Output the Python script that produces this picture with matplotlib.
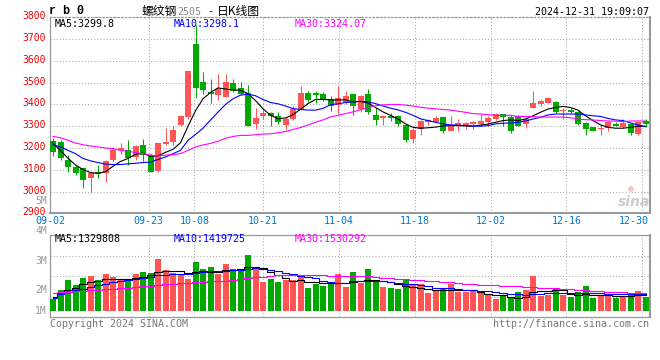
import numpy as np
import matplotlib
matplotlib.use("Agg")
import matplotlib.pyplot as plt
from matplotlib.transforms import blended_transform_factory, ScaledTranslation

plt.rcParams['font.family'] = ['DejaVu Sans Mono', 'Noto Sans CJK SC']

RED, GREEN = "#FF5555", "#00A800"
GRID, SPINE = "#AAAAAA", "#999999"
DOT = (0, (1, 2))

# ---- daily candles rb2505, 2024-09-02 .. 2024-12-31 (80 sessions) ----
opens = [3232, 3229, 3147, 3115, 3106, 3064, 3092, 3086, 3144, 3189,
         3191, 3158, 3215, 3170, 3094, 3220, 3227, 3306, 3341, 3676,
         3503, 3455, 3442, 3436, 3500, 3474, 3452, 3311, 3347, 3361,
         3348, 3306, 3333, 3379, 3452, 3452, 3447, 3427, 3398, 3409,
         3447, 3379, 3447, 3352, 3336, 3348, 3345, 3306, 3242, 3285,
         3318, 3321, 3344, 3280, 3300, 3306, 3311, 3311, 3318, 3333,
         3356, 3341, 3345, 3311, 3386, 3402, 3409, 3412, 3370, 3376,
         3367, 3315, 3295, 3285, 3291, 3311, 3295, 3311, 3265, 3326]
highs = [3247, 3235, 3167, 3124, 3109, 3091, 3124, 3144, 3205, 3224,
         3239, 3215, 3242, 3174, 3223, 3291, 3300, 3352, 3552, 3764,
         3549, 3516, 3538, 3541, 3515, 3505, 3488, 3386, 3386, 3367,
         3367, 3341, 3394, 3485, 3462, 3462, 3455, 3439, 3485, 3462,
         3447, 3442, 3470, 3386, 3352, 3361, 3352, 3306, 3292, 3330,
         3333, 3345, 3348, 3348, 3333, 3321, 3326, 3356, 3345, 3361,
         3356, 3352, 3352, 3341, 3462, 3424, 3436, 3417, 3386, 3382,
         3371, 3318, 3298, 3311, 3326, 3318, 3333, 3311, 3321, 3333]
lows = [3164, 3144, 3088, 3076, 3015, 2992, 3061, 3042, 3136, 3174,
        3124, 3144, 3139, 3088, 3091, 3215, 3212, 3300, 3333, 3428,
        3447, 3408, 3421, 3435, 3459, 3442, 3300, 3285, 3333, 3303,
        3311, 3288, 3329, 3376, 3412, 3406, 3417, 3371, 3356, 3402,
        3353, 3364, 3356, 3306, 3306, 3323, 3303, 3227, 3224, 3258,
        3306, 3318, 3270, 3278, 3276, 3285, 3288, 3300, 3303, 3330,
        3303, 3270, 3300, 3291, 3386, 3394, 3406, 3361, 3333, 3361,
        3306, 3258, 3276, 3258, 3276, 3300, 3291, 3261, 3261, 3295]
closes = [3180, 3153, 3112, 3083, 3053, 3083, 3080, 3141, 3192, 3200,
          3155, 3211, 3167, 3091, 3223, 3229, 3283, 3347, 3552, 3477,
          3467, 3447, 3470, 3505, 3462, 3447, 3303, 3338, 3361, 3345,
          3318, 3333, 3379, 3452, 3420, 3444, 3424, 3394, 3429, 3439,
          3394, 3439, 3367, 3330, 3345, 3339, 3311, 3235, 3283, 3326,
          3328, 3338, 3280, 3303, 3315, 3315, 3318, 3326, 3338, 3356,
          3341, 3280, 3303, 3333, 3406, 3417, 3429, 3364, 3373, 3367,
          3311, 3288, 3280, 3294, 3321, 3303, 3315, 3270, 3318, 3311]

ma5 = [3222, 3188, 3153, 3122, 3101, 3087, 3084, 3091, 3116, 3138,
       3152, 3171, 3176, 3162, 3164, 3180, 3194, 3224, 3300, 3371,
       3426, 3455, 3476, 3471, 3467, 3465, 3450, 3418, 3380, 3351,
       3334, 3338, 3353, 3378, 3404, 3423, 3423, 3421, 3421, 3421,
       3412, 3414, 3407, 3386, 3366, 3350, 3333, 3311, 3295, 3291,
       3293, 3296, 3301, 3303, 3303, 3301, 3300, 3305, 3310, 3318,
       3326, 3329, 3326, 3333, 3348, 3364, 3379, 3386, 3391, 3386,
       3374, 3348, 3326, 3306, 3295, 3291, 3291, 3295, 3300, 3300]
ma10 = [3215, 3205, 3189, 3174, 3152, 3141, 3133, 3126, 3124, 3124,
        3127, 3130, 3133, 3135, 3147, 3159, 3174, 3189, 3235, 3262,
        3291, 3328, 3365, 3400, 3426, 3443, 3447, 3440, 3423, 3409,
        3403, 3393, 3381, 3377, 3374, 3374, 3382, 3399, 3403, 3409,
        3412, 3414, 3412, 3404, 3393, 3383, 3375, 3364, 3350, 3334,
        3326, 3318, 3311, 3306, 3305, 3303, 3301, 3300, 3303, 3311,
        3314, 3315, 3318, 3324, 3333, 3341, 3352, 3356, 3356, 3356,
        3356, 3352, 3348, 3345, 3336, 3329, 3326, 3315, 3306, 3298]
ma30 = [3253, 3247, 3235, 3223, 3215, 3209, 3205, 3200, 3197, 3189,
        3185, 3179, 3174, 3167, 3164, 3167, 3170, 3174, 3189, 3205,
        3214, 3221, 3231, 3245, 3253, 3258, 3258, 3261, 3264, 3265,
        3270, 3276, 3285, 3294, 3306, 3318, 3329, 3343, 3350, 3358,
        3366, 3376, 3386, 3394, 3398, 3400, 3400, 3397, 3393, 3387,
        3383, 3380, 3377, 3374, 3369, 3364, 3358, 3356, 3353, 3350,
        3350, 3350, 3345, 3345, 3344, 3342, 3342, 3342, 3342, 3339,
        3333, 3330, 3329, 3326, 3324, 3324, 3321, 3324, 3324, 3324]

# volume in units of 10k lots
vol = [99, 175, 259, 217, 277, 292, 259, 309, 283, 259,
       252, 309, 326, 321, 437, 343, 317, 303, 271, 412,
       353, 368, 309, 393, 353, 343, 469, 374, 245, 271,
       244, 259, 259, 303, 193, 231, 210, 229, 309, 203,
       328, 235, 353, 263, 202, 193, 182, 258, 229, 229,
       149, 174, 187, 224, 160, 160, 168, 168, 140, 98,
       126, 109, 157, 174, 292, 126, 132, 196, 132, 118,
       157, 208, 109, 137, 137, 109, 126, 145, 166, 118]
vma5 = [120, 148, 176, 196, 224, 241, 255, 266, 266, 269,
        269, 275, 283, 303, 331, 336, 336, 336, 317, 331,
        336, 331, 331, 345, 345, 350, 367, 373, 359, 331,
        303, 275, 252, 261, 246, 241, 232, 232, 235, 235,
        244, 249, 263, 258, 249, 244, 230, 207, 202, 196,
        188, 179, 179, 179, 174, 174, 174, 160, 146, 137,
        132, 118, 112, 118, 160, 168, 170, 178, 174, 146,
        137, 146, 137, 137, 132, 128, 124, 128, 134, 133]
vma10 = [112, 140, 162, 176, 185, 204, 218, 227, 241, 252,
         261, 269, 280, 289, 303, 303, 308, 311, 311, 317,
         331, 336, 336, 339, 345, 345, 353, 359, 353, 345,
         336, 317, 311, 297, 289, 275, 255, 241, 238, 236,
         249, 249, 252, 252, 249, 244, 235, 230, 224, 216,
         207, 196, 193, 190, 182, 179, 174, 168, 165, 160,
         151, 146, 140, 137, 140, 146, 151, 154, 154, 154,
         151, 151, 154, 151, 146, 145, 144, 143, 142, 142]
vma30 = [154, 157, 162, 168, 168, 174, 176, 182, 185, 190,
         196, 202, 210, 213, 218, 224, 230, 232, 238, 244,
         246, 249, 252, 255, 261, 266, 275, 283, 289, 297,
         300, 300, 300, 300, 300, 300, 300, 298, 297, 296,
         294, 294, 291, 286, 280, 277, 272, 266, 263, 258,
         252, 249, 244, 241, 235, 230, 224, 221, 218, 216,
         213, 210, 207, 202, 202, 196, 193, 190, 188, 182,
         179, 174, 168, 165, 162, 160, 157, 154, 151, 153]

date_idx = [0, 13, 19, 28, 38, 48, 58, 68, 78]
date_lbl = ["09-02", "09-23", "10-08", "10-21", "11-04", "11-18", "12-02", "12-16", "12-30"]

o, h, l, c = map(np.array, (opens, highs, lows, closes))
x = np.arange(len(o))
up = c >= o
cols = np.where(up, RED, GREEN)
gx = np.array(date_idx) * len(x) / (len(x) - 1) - 0.4   # sina's grid pitch differs slightly from bar pitch

W, H = 660, 360
fx = lambda p: p / W
fy = lambda p: 1 - p / H

fig = plt.figure(figsize=(6.6, 3.6), dpi=100)
ax = fig.add_axes([fx(50), fy(213.3), 600 / W, (213.3 - 17.4) / H])
av = fig.add_axes([fx(50), fy(317), 600 / W, (317 - 235) / H])

# price panel
ax.vlines(x, l, h, colors=cols, lw=0.75, zorder=3)
body = np.maximum(np.abs(c - o), 3)
ax.bar(x, body, bottom=np.minimum(o, c), width=0.8, color=cols, lw=0, zorder=3)
ax.plot(x, ma5, color="black", lw=0.8, zorder=4)
ax.plot(x, ma10, color="#0000FF", lw=0.8, zorder=4)
ax.plot(x, ma30, color="#FF00FF", lw=0.8, zorder=4)
ax.set_xlim(-0.4, 79.6)
ax.set_ylim(2900, 3800)
ax.set_yticks(range(2900, 3801, 100))
ax.tick_params(axis="y", length=0, pad=3, labelsize=7, labelcolor="#EE0000")
ax.tick_params(axis="x", length=0, labelbottom=False)
ax.set_xticks([])
lift = ScaledTranslation(0, 2 / 100, fig.dpi_scale_trans)
for t in ax.get_yticklabels():
    t.set_transform(t.get_transform() + lift)
ax.grid(axis="y", color=GRID, ls=DOT, lw=0.75, zorder=0)
for g in gx[1:]:
    ax.axvline(g, color=GRID, ls=DOT, lw=0.75, zorder=0)

# volume panel
av.bar(x, vol, width=0.8, color=cols, lw=0, zorder=3)
av.plot(x, vma5, color="black", lw=0.8, drawstyle="steps-mid", zorder=4)
av.plot(x, vma10, color="#0000FF", lw=0.8, drawstyle="steps-mid", zorder=4)
av.plot(x, vma30, color="#FF00FF", lw=0.8, drawstyle="steps-mid", zorder=4)
av.set_xlim(-0.4, 79.6)
vlo, vhi = -50, 639
av.set_ylim(vlo, vhi)
av.set_yticks(np.linspace(vlo, vhi, 5)[1:-1])
av.set_xticks([])
av.tick_params(length=0, labelleft=False)
av.grid(axis="y", color=GRID, ls=DOT, lw=0.75, zorder=0)
for g in gx[1:]:
    av.axvline(g, color=GRID, ls=DOT, lw=0.75, zorder=0)

for a in (ax, av):
    for s in a.spines.values():
        s.set_color(SPINE)
        s.set_linewidth(0.9)
ax.spines["top"].set_linestyle(DOT)
ax.spines["bottom"].set_linewidth(1.5)
ax.spines["right"].set_linewidth(1.5)
av.spines["right"].set_linewidth(1.5)

# date labels under the price panel
tr = blended_transform_factory(ax.transData, fig.transFigure)
for g, lab in zip(gx, date_lbl):
    if g > 77:
        ax.text(79.5, fy(221.5), lab, transform=tr, ha="right", va="center",
                fontsize=7.2, color="#0077CC")
    else:
        ax.text(g, fy(221.5), lab, transform=tr, ha="center", va="center",
                fontsize=7.2, color="#0077CC")

# header
fig.text(fx(49), fy(11.5), "r b 0", fontsize=8.5, fontweight="bold",
         family=["Liberation Mono", "DejaVu Sans Mono"], va="center")
fig.text(fx(142), fy(11.5), "螺纹钢", fontsize=8.5, family=["Noto Sans CJK SC"], va="center")
fig.text(fx(177), fy(12), "2505", fontsize=7.2, color="#888888", va="center")
fig.text(fx(207), fy(11.5), "-", fontsize=7.2, va="center")
fig.text(fx(217), fy(11.5), "日K线图", fontsize=8.5, family=["Noto Sans CJK SC"], va="center")
fig.text(fx(649), fy(12), "2024-12-31 19:09:07", fontsize=7.2, ha="right", va="center")

# MA values
fig.text(fx(55), fy(24), "MA5:3299.8", fontsize=7.2, color="black", va="center")
fig.text(fx(174), fy(24), "MA10:3298.1", fontsize=7.2, color="#0000FF", va="center")
fig.text(fx(295), fy(24), "MA30:3324.07", fontsize=7.2, color="#FF00FF", va="center")
fig.text(fx(55), fy(239.5), "MA5:1329808", fontsize=7.2, color="black", va="center")
fig.text(fx(174), fy(239.5), "MA10:1419725", fontsize=7.2, color="#0000FF", va="center")
fig.text(fx(295), fy(239.5), "MA30:1530292", fontsize=7.2, color="#FF00FF", va="center")

# volume scale labels (sina places them loosely)
for lab, py in [("5M", 201), ("4M", 231), ("3M", 261), ("2M", 290), ("1M", 311)]:
    fig.text(fx(47), fy(py), lab, fontsize=7, color="#999999", ha="right", va="center")

# watermark
fig.text(fx(631), fy(189), "\u25cf", fontsize=7, color="#F6C9C9", ha="center", va="center")
fig.text(fx(634), fy(202), "sina", fontsize=10, color="#CCCCCC", style="italic",
         fontweight="bold", family=["DejaVu Sans"], ha="center", va="center")

# footer
fig.text(fx(50), fy(324), "Copyright 2024 SINA.COM", fontsize=7.2, color="#777777", va="center")
fig.text(fx(649), fy(324), "http://finance.sina.com.cn", fontsize=7.2, color="#777777",
         ha="right", va="center")

fig.savefig("out.png", dpi=100)
